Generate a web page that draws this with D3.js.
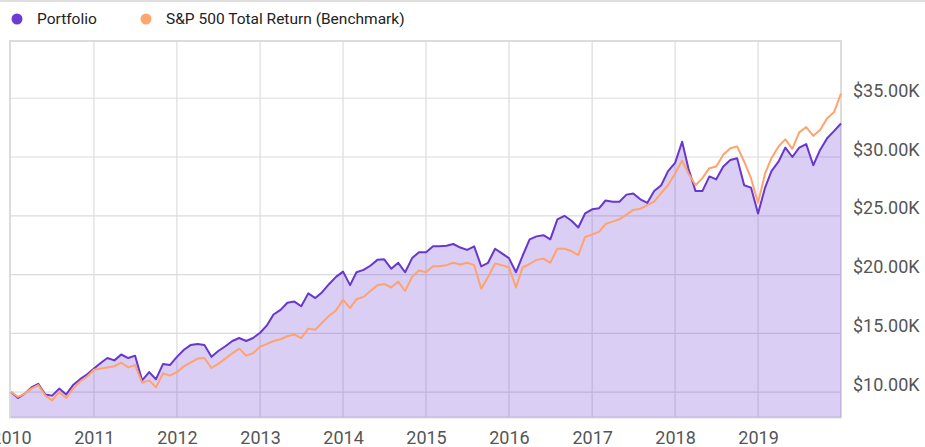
<!DOCTYPE html>
<html>
<head>
<meta charset="utf-8">
<script src="https://cdn.jsdelivr.net/npm/d3@7"></script>
<style>
  body { margin: 0; background: #fff; }
  svg { display: block; font-family: Roboto, sans-serif; }
</style>
</head>
<body>
<div id="chart"></div>
<script>
// month-end values in $K, first point = start of Jan 2010
var startDate = new Date(2010, 0, 1);
var seriesNames = ["Portfolio", "S&P 500 Total Return (Benchmark)"];
var portfolio = [
  10.0,
  9.5, 9.85, 10.4, 10.7, 9.8, 9.7, 10.3, 9.8, 10.6, 11.1, 11.5, 12.0,
  12.5, 12.9, 12.7, 13.2, 12.9, 13.1, 11.0, 11.7, 11.1, 12.4, 12.3, 13.0,
  13.6, 14.0, 14.1, 14.0, 13.0, 13.5, 13.9, 14.35, 14.6, 14.35, 14.6, 15.05,
  15.7, 16.6, 17.0, 17.6, 17.7, 17.3, 18.4, 18.0, 18.5, 19.2, 19.8, 20.25,
  19.1, 20.2, 20.4, 20.75, 21.25, 21.3, 20.5, 21.0, 20.2, 21.4, 21.9, 21.9,
  22.4, 22.4, 22.45, 22.6, 22.3, 22.1, 22.4, 20.7, 21.0, 22.2, 21.8, 21.4,
  20.2, 21.6, 23.0, 23.25, 23.35, 23.0, 24.7, 25.0, 24.6, 24.0, 25.2, 25.55,
  25.65, 26.3, 26.2, 26.2, 26.8, 26.9, 26.4, 26.1, 27.1, 27.6, 28.8, 29.5,
  31.3, 29.0, 27.1, 27.1, 28.35, 28.1, 29.2, 29.75, 29.9, 27.6, 27.4, 25.2,
  27.4, 28.8, 29.6, 30.8, 30.0, 30.8, 31.1, 29.3, 30.6, 31.6, 32.2, 32.85
];
var benchmark = [
  10.0,
  9.6, 9.85, 10.3, 10.6, 9.7, 9.3, 10.0, 9.5, 10.3, 10.9, 11.3, 11.9,
  12.0, 12.1, 12.2, 12.5, 12.1, 12.3, 10.8, 11.0, 10.4, 11.6, 11.4, 11.7,
  12.2, 12.5, 12.85, 12.9, 12.05, 12.4, 12.85, 13.3, 13.7, 13.1, 13.3, 13.85,
  14.1, 14.35, 14.5, 14.75, 14.9, 14.6, 15.4, 15.3, 15.9, 16.5, 16.95, 17.85,
  17.15, 17.9, 18.1, 18.6, 19.1, 19.2, 18.9, 19.4, 18.6, 19.8, 20.35, 20.2,
  20.7, 20.7, 20.8, 21.0, 20.85, 21.0, 20.8, 18.8, 19.8, 20.95, 20.8, 20.6,
  18.9, 20.6, 20.9, 21.25, 21.35, 21.0, 22.2, 22.2, 22.0, 21.65, 23.2, 23.4,
  23.65, 24.3, 24.5, 24.7, 25.1, 25.5, 25.6, 25.9, 26.2, 26.95, 27.6, 28.6,
  29.7, 28.6, 27.6, 28.2, 29.05, 29.2, 30.2, 30.75, 30.9, 29.6, 28.2, 26.1,
  28.6, 29.9, 30.9, 31.5, 30.7, 32.1, 32.55, 31.8, 32.3, 33.3, 33.8, 35.4
];
var yTicks = [10, 15, 20, 25, 30, 35];
var xTicks = [2010, 2011, 2012, 2013, 2014, 2015, 2016, 2017, 2018, 2019];

var width = 925, height = 447;
var plotLeft = 11, plotRight = 841, plotTop = 41, plotBottom = 417.5;

var svg = d3.select("#chart").append("svg")
    .attr("width", width)
    .attr("height", height);

var x = d3.scaleTime()
    .domain([startDate, d3.timeMonth.offset(startDate, portfolio.length - 1)])
    .range([plotLeft, plotRight]);

var y = d3.scaleLinear()
    .domain([7.84, 39.87])
    .range([plotBottom, plotTop]);

function toPoints(values) {
  return values.map(function(v, i) {
    return { date: d3.timeMonth.offset(startDate, i), value: v };
  });
}
var pData = toPoints(portfolio);
var bData = toPoints(benchmark);

// top rule
svg.append("line")
    .attr("x1", 0).attr("x2", width)
    .attr("y1", 1).attr("y2", 1)
    .attr("stroke", "#d4d4d4")
    .attr("stroke-width", 1.5);

// grid
svg.append("g").selectAll("line")
    .data(xTicks.slice(1))
    .enter().append("line")
    .attr("x1", function(d) { return x(new Date(d, 0, 1)); })
    .attr("x2", function(d) { return x(new Date(d, 0, 1)); })
    .attr("y1", plotTop).attr("y2", plotBottom)
    .attr("stroke", "#dcdcdc")
    .attr("stroke-width", 1.2);

svg.append("g").selectAll("line")
    .data(yTicks)
    .enter().append("line")
    .attr("x1", plotLeft).attr("x2", plotRight)
    .attr("y1", function(d) { return y(d); })
    .attr("y2", function(d) { return y(d); })
    .attr("stroke", "#dcdcdc")
    .attr("stroke-width", 1.2);

svg.append("rect")
    .attr("x", plotLeft - 1).attr("y", plotTop)
    .attr("width", plotRight - plotLeft + 1).attr("height", plotBottom - plotTop)
    .attr("fill", "none")
    .attr("stroke", "#dcdcdc")
    .attr("stroke-width", 2);

// area under portfolio
var area = d3.area()
    .x(function(d) { return x(d.date); })
    .y0(plotBottom)
    .y1(function(d) { return y(d.value); });

svg.append("path")
    .datum(pData)
    .attr("d", area)
    .attr("fill", "rgb(112, 64, 212)")
    .attr("fill-opacity", 0.26);

var line = d3.line()
    .x(function(d) { return x(d.date); })
    .y(function(d) { return y(d.value); });

svg.append("path")
    .datum(pData)
    .attr("d", line)
    .attr("fill", "none")
    .attr("stroke", "#6737cf")
    .attr("stroke-width", 2)
    .attr("stroke-linejoin", "round");

svg.append("path")
    .datum(bData)
    .attr("d", line)
    .attr("fill", "none")
    .attr("stroke", "#ffa36e")
    .attr("stroke-width", 2)
    .attr("stroke-linejoin", "round");

// axes
var yAxis = d3.axisRight(y)
    .tickValues(yTicks)
    .tickSize(0)
    .tickPadding(0)
    .tickFormat(function(d) { return d3.format("$.2f")(d) + "K"; });

var gy = svg.append("g")
    .attr("transform", "translate(853,0)")
    .call(yAxis);
gy.select(".domain").remove();
gy.selectAll("text")
    .attr("dy", "-0.1em")
    .attr("font-size", 18)
    .attr("font-family", "Roboto, sans-serif")
    .attr("fill", "#555");

var xAxis = d3.axisBottom(x)
    .tickValues(xTicks.map(function(d) { return new Date(d, 0, 1); }))
    .tickSize(0)
    .tickPadding(0)
    .tickFormat(d3.timeFormat("%Y"));

var gx = svg.append("g")
    .attr("transform", "translate(0,431)")
    .call(xAxis);
gx.select(".domain").remove();
gx.selectAll("text")
    .attr("font-size", 18)
    .attr("font-family", "Roboto, sans-serif")
    .attr("fill", "#555");

// legend
var legendColors = ["#6b3bd2", "#ffa570"];
var legendX = [17, 146];
var legend = svg.append("g").selectAll("g")
    .data(seriesNames)
    .enter().append("g")
    .attr("transform", function(d, i) { return "translate(" + legendX[i] + ",19)"; });

legend.append("circle")
    .attr("r", 5.5)
    .attr("fill", function(d, i) { return legendColors[i]; });

legend.append("text")
    .attr("x", 20)
    .attr("dy", "0.35em")
    .attr("font-size", 15.5)
    .attr("fill", "#222")
    .text(function(d) { return d; });
</script>
</body>
</html>
